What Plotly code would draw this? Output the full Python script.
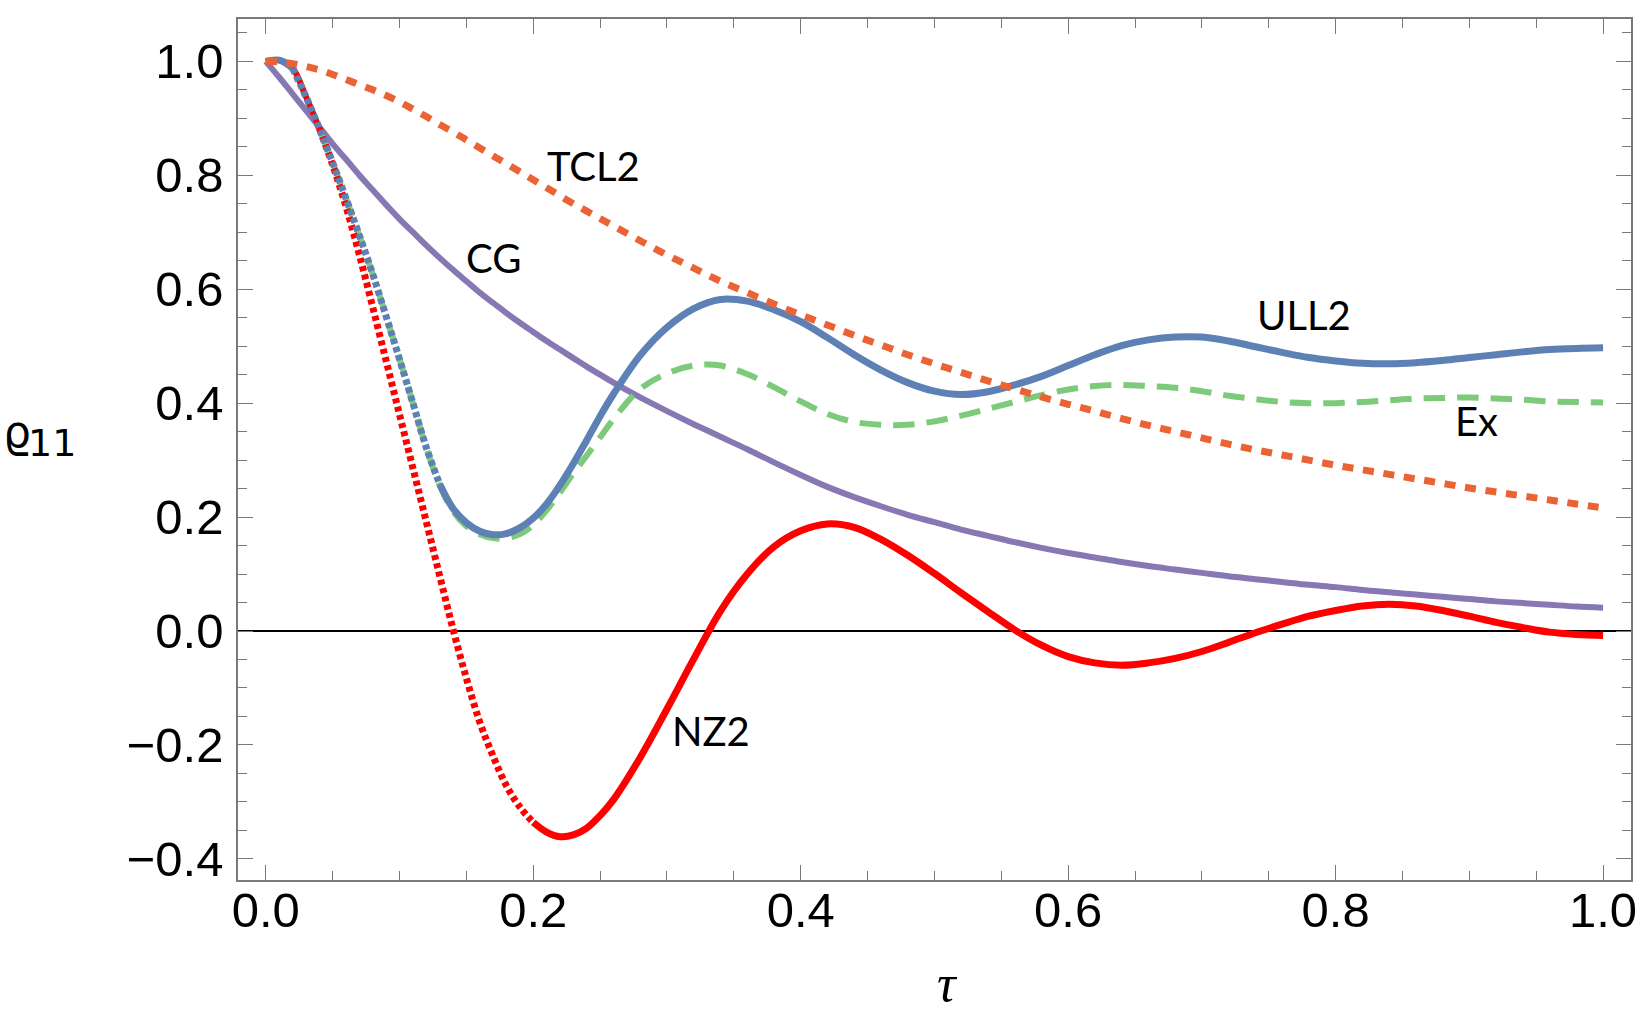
import plotly.graph_objects as go

# ---------------- data ----------------
tau = [0.00, 0.01, 0.02, 0.03, 0.04, 0.05, 0.06, 0.07, 0.08, 0.09,
       0.10, 0.11, 0.12, 0.13, 0.14, 0.15, 0.16, 0.17, 0.18, 0.19,
       0.20, 0.21, 0.22, 0.23, 0.24, 0.25, 0.26, 0.28, 0.30, 0.32,
       0.34, 0.36, 0.38, 0.40, 0.42, 0.44, 0.46, 0.48, 0.50, 0.52,
       0.54, 0.56, 0.58, 0.60, 0.62, 0.64, 0.66, 0.68, 0.70, 0.72,
       0.74, 0.76, 0.78, 0.80, 0.82, 0.84, 0.86, 0.88, 0.90, 0.92,
       0.94, 0.96, 0.98, 1.00]

ull2 = [1.000, 1.002, 0.988, 0.938, 0.882, 0.822, 0.759, 0.694, 0.626, 0.552,
        0.477, 0.400, 0.322, 0.258, 0.215, 0.190, 0.175, 0.169, 0.171, 0.181,
        0.198, 0.223, 0.256, 0.294, 0.335, 0.377, 0.416, 0.484, 0.533, 0.566,
        0.582, 0.579, 0.564, 0.543, 0.515, 0.485, 0.458, 0.436, 0.421, 0.415,
        0.420, 0.432, 0.447, 0.466, 0.485, 0.501, 0.511, 0.516, 0.516, 0.509,
        0.499, 0.489, 0.480, 0.474, 0.470, 0.469, 0.471, 0.475, 0.480, 0.485,
        0.490, 0.494, 0.496, 0.497]

ex = [1.000, 1.002, 0.988, 0.938, 0.882, 0.822, 0.759, 0.694, 0.626, 0.552,
      0.477, 0.400, 0.322, 0.256, 0.210, 0.184, 0.170, 0.163, 0.163, 0.170,
      0.186, 0.212, 0.243, 0.277, 0.308, 0.340, 0.372, 0.425, 0.452, 0.466,
      0.466, 0.451, 0.428, 0.403, 0.381, 0.367, 0.362, 0.362, 0.368, 0.378,
      0.390, 0.402, 0.414, 0.424, 0.430, 0.432, 0.430, 0.427, 0.421, 0.413,
      0.407, 0.402, 0.400, 0.400, 0.402, 0.405, 0.408, 0.409, 0.410, 0.408,
      0.406, 0.403, 0.402, 0.401]

nz2 = [1.000, 1.002, 0.988, 0.938, 0.882, 0.818, 0.745, 0.660, 0.568, 0.474,
       0.380, 0.286, 0.192, 0.097, 0.003, -0.083, -0.160, -0.220, -0.272, -0.309,
       -0.336, -0.353, -0.361, -0.358, -0.346, -0.324, -0.296, -0.222, -0.137, -0.049,
       0.035, 0.100, 0.148, 0.176, 0.188, 0.182, 0.161, 0.133, 0.101, 0.067,
       0.034, 0.002, -0.025, -0.045, -0.056, -0.060, -0.056, -0.048, -0.036, -0.020,
       -0.003, 0.012, 0.026, 0.036, 0.044, 0.047, 0.044, 0.036, 0.026, 0.015,
       0.006, -0.002, -0.006, -0.008]

cg = [1.000, 0.972, 0.943, 0.914, 0.885, 0.855, 0.828, 0.800, 0.774, 0.748,
      0.723, 0.700, 0.677, 0.655, 0.634, 0.614, 0.594, 0.576, 0.558, 0.541,
      0.525, 0.509, 0.494, 0.479, 0.464, 0.450, 0.436, 0.410, 0.386, 0.363,
      0.341, 0.319, 0.296, 0.274, 0.253, 0.235, 0.219, 0.204, 0.191, 0.178,
      0.167, 0.156, 0.146, 0.137, 0.129, 0.121, 0.114, 0.108, 0.102, 0.096,
      0.091, 0.086, 0.081, 0.077, 0.072, 0.068, 0.064, 0.060, 0.056, 0.052,
      0.049, 0.046, 0.043, 0.041]

tcl2 = [1.000, 0.999, 0.996, 0.991, 0.985, 0.977, 0.968, 0.959, 0.950, 0.940,
        0.929, 0.916, 0.903, 0.889, 0.876, 0.862, 0.848, 0.834, 0.820, 0.806,
        0.792, 0.778, 0.764, 0.750, 0.737, 0.724, 0.711, 0.685, 0.660, 0.637,
        0.614, 0.594, 0.574, 0.555, 0.537, 0.519, 0.502, 0.485, 0.469, 0.454,
        0.439, 0.425, 0.411, 0.398, 0.386, 0.373, 0.361, 0.350, 0.339, 0.328,
        0.318, 0.309, 0.300, 0.291, 0.283, 0.275, 0.267, 0.259, 0.251, 0.244,
        0.237, 0.230, 0.223, 0.216]

x_ticks = [0.0, 0.2, 0.4, 0.6, 0.8, 1.0]
y_ticks = [-0.4, -0.2, 0.0, 0.2, 0.4, 0.6, 0.8, 1.0]

# ---------------- styling ----------------
W, H = 1650, 1021
L, R, T, B = 238, 19, 19, 141
C_ULL2 = "#5E81B5"
C_EX = "#7DCA7A"
C_NZ2 = "#FF0000"
C_CG = "#8778B3"
C_TCL2 = "#EB6235"
FRAME = "#7a7a7a"


def seg(xs, ys, lo, hi):
    idx = [i for i, v in enumerate(xs) if lo - 1e-9 <= v <= hi + 1e-9]
    return [xs[i] for i in idx], [ys[i] for i in idx]


def line(xs, ys, color, width, dash="solid"):
    return go.Scatter(x=xs, y=ys, mode="lines", showlegend=False, hoverinfo="skip",
                      line=dict(color=color, width=width, dash=dash,
                                shape="spline", smoothing=1.0))


fig = go.Figure()
# CG
fig.add_trace(line(tau, cg, C_CG, 6))
# Ex
fig.add_trace(line(tau, ex, C_EX, 6, "21.5px,12px"))
# NZ2 : solid start, dotted steep part, solid rest
x, y = seg(tau, nz2, 0.0, 0.04)
fig.add_trace(line(x, y, C_NZ2, 6))
x, y = seg(tau, nz2, 0.04, 0.20)
fig.add_trace(line(x, y, C_NZ2, 7, "5px,3.5px"))
x, y = seg(tau, nz2, 0.20, 1.0)
fig.add_trace(line(x, y, C_NZ2, 7))
# ULL2
x, y = seg(tau, ull2, 0.0, 0.02)
fig.add_trace(line(x, y, C_ULL2, 7))
x, y = seg(tau, ull2, 0.02, 0.13)
fig.add_trace(line(x, y, C_ULL2, 7, "5.5px,3px"))
x, y = seg(tau, ull2, 0.13, 1.0)
fig.add_trace(line(x, y, C_ULL2, 7))
# TCL2
fig.add_trace(line(tau, tcl2, C_TCL2, 7, "11px,9.7px"))

axis_common = dict(
    showline=True, linecolor=FRAME, linewidth=1.5, mirror="ticks",
    ticks="inside", ticklen=15, tickwidth=1.3, tickcolor=FRAME,
    tickformat=".1f", showgrid=False,
    tickfont=dict(family="Liberation Sans, Arial, sans-serif", size=49, color="black"),
    minor=dict(ticks="inside", ticklen=9, tickwidth=1.3, tickcolor=FRAME, dtick=0.05, tick0=0, showgrid=False),
)
fig.update_xaxes(range=[-0.0208, 1.0209], tickvals=x_ticks, zeroline=False,
                 ticklabelstandoff=-14, **axis_common)
fig.update_yaxes(range=[-0.4371, 1.0743], tickvals=y_ticks, zeroline=True,
                 zerolinecolor="black", zerolinewidth=2, ticklabelstandoff=3, **axis_common)


def px2paper(px, py):
    return (px - L) / (W - L - R), (H - B - py) / (H - T - B)


labels = [("TCL2", 593, 166), ("CG", 493, 258), ("NZ2", 711, 731),
          ("ULL2", 1304, 315), ("Ex", 1476, 421)]
anns = []
for txt, px, py in labels:
    ax_, ay_ = px2paper(px, py)
    anns.append(dict(text=txt, x=ax_, y=ay_, xref="paper", yref="paper",
                     xanchor="center", yanchor="middle", showarrow=False,
                     font=dict(family="Lato, sans-serif", size=40, color="black")))

# axis titles
ax_, ay_ = px2paper(947, 984)
anns.append(dict(text="τ", x=ax_, y=ay_, xref="paper", yref="paper", xanchor="center",
                 yanchor="middle", showarrow=False,
                 font=dict(family="Liberation Serif, serif", size=52, color="black", style="italic")))
ax_, ay_ = px2paper(1, 432)
anns.append(dict(text="ϱ", x=ax_, y=ay_, xref="paper", yref="paper", xanchor="left",
                 yanchor="middle", showarrow=False,
                 font=dict(family="DejaVu Sans, sans-serif", size=44, color="black")))
ax_, ay_ = px2paper(26, 443)
anns.append(dict(text="11", x=ax_, y=ay_, xref="paper", yref="paper", xanchor="left",
                 yanchor="middle", showarrow=False,
                 font=dict(family="DejaVu Sans, sans-serif", size=38, color="black")))

fig.update_layout(width=W, height=H, margin=dict(l=L, r=R, t=T, b=B, pad=0),
                  paper_bgcolor="white", plot_bgcolor="white", annotations=anns,
                  showlegend=False)

fig.write_html("out.html")
